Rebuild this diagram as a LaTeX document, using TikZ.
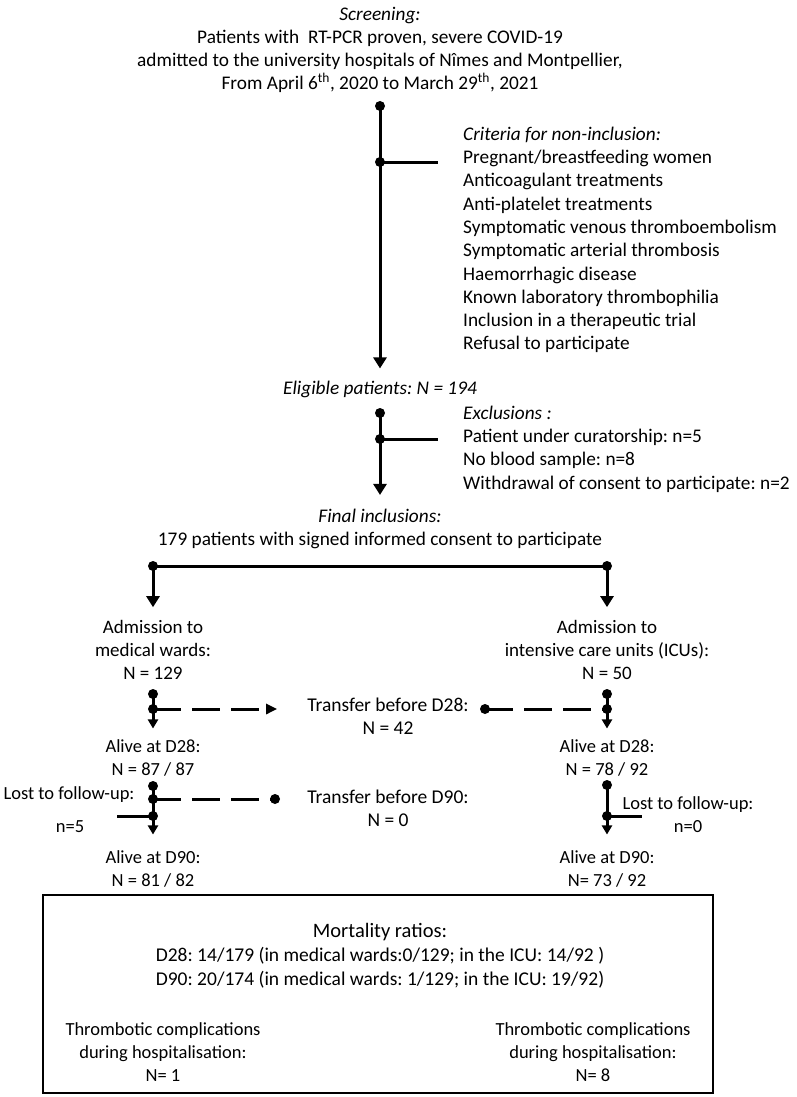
\documentclass[tikz,border=0pt]{standalone}
\usepackage{fontspec}
\setmainfont{Carlito}
\usepackage{tikz}
\usetikzlibrary{positioning,arrows.meta}
\frenchspacing

\begin{document}
\begin{tikzpicture}[x=1pt, y=-1pt,
    txt/.style={align=center, inner sep=0pt, font=\fontsize{18.5}{23}\selectfont},
    big/.style={font=\fontsize{19.3}{23}\selectfont},
    lst/.style={align=left, anchor=west, inner sep=0pt, font=\fontsize{19.3}{23.3}\selectfont},
    dot/.style={circle, fill=black, inner sep=0pt, minimum size=10pt},
    link/.style={line width=3pt},
    flow/.style={line width=3pt, -{Triangle[length=11pt, width=13pt]}},
    subflow/.style={line width=3pt, -{Triangle[length=9pt, width=10pt]}},
    dashlink/.style={line width=3pt, dash pattern=on 28pt off 11pt}]

    \useasboundingbox (0,0) rectangle (796,1097);

    % Screening and non-inclusion
    \node[txt, big] (Screening) at (380,50) {\textit{Screening:}\\Patients with \ RT-PCR proven, severe COVID-19\\admitted to the university hospitals of Nîmes and Montpellier,\\From April 6\textsuperscript{th}, 2020 to March 29\textsuperscript{th}, 2021};
    \node[dot] (ScrDot) at (380,106) {};
    \node[dot] (CritDot) at (380,162) {};
    \coordinate (CritEnd) at (438,162);
    \node[lst] (Criteria) at (463,240) {\textit{Criteria for non-inclusion:}\\Pregnant/breastfeeding women\\Anticoagulant treatments\\Anti-platelet treatments\\Symptomatic venous thromboembolism\\Symptomatic arterial thrombosis\\Haemorrhagic disease\\Known laboratory thrombophilia\\Inclusion in a therapeutic trial\\Refusal to participate};
    \node[txt, big] (Eligible) at (380,389) {\textit{Eligible patients: N = 194}};

    \draw[flow, shorten >=12pt] (ScrDot.center) -- (Eligible);
    \draw[link] (CritDot.center) -- (CritEnd);

    % Exclusions
    \node[dot] (EligDot) at (380,413) {};
    \node[dot] (ExclDot) at (380,439) {};
    \coordinate (ExclEnd) at (438,439);
    \node[lst] (Exclusions) at (463,449) {\textit{Exclusions :}\\Patient under curatorship: n=5\\No blood sample: n=8\\Withdrawal of consent to participate: n=2};
    \node[txt, big] (Final) at (380,529) {\textit{Final inclusions:}\\179 patients with signed informed consent to participate};

    \draw[flow, shorten >=14pt] (EligDot.center) -- (Final);
    \draw[link] (ExclDot.center) -- (ExclEnd);

    % Split into wards and ICU
    \node[dot] (SplitL) at (153,566) {};
    \node[dot] (SplitR) at (607,566) {};
    \node[txt, font=\fontsize{19}{23}\selectfont] (WardAdm) at (153,650) {Admission to\\medical wards:\\N = 129};
    \node[txt, font=\fontsize{19}{23}\selectfont] (IcuAdm) at (607,650) {Admission to\\intensive care units (ICUs):\\N = 50};

    \draw[link] (SplitL.center) -- (SplitR.center);
    \draw[flow, shorten >=13pt] (SplitL.center) -- (WardAdm);
    \draw[flow, shorten >=13pt] (SplitR.center) -- (IcuAdm);

    % Up to D28
    \node[dot] (WardDot1) at (153,694) {};
    \node[dot] (WardDot2) at (153,709) {};
    \node[dot] (IcuDot1) at (607,694) {};
    \node[dot] (IcuDot2) at (607,709) {};
    \node[dot] (TransDot) at (485,709) {};
    \node[txt, font=\fontsize{19.5}{23}\selectfont] (Trans28) at (388,716) {Transfer before D28:\\N = 42};
    \node[txt] (Ward28) at (153,758) {Alive at D28:\\N = 87 / 87};
    \node[txt] (Icu28) at (607,758) {Alive at D28:\\N = 78 / 92};

    \draw[subflow, shorten >=11pt] (WardDot1.center) -- (Ward28);
    \draw[subflow, shorten >=11pt] (IcuDot1.center) -- (Icu28);
    \draw[dashlink, -{Triangle[length=11pt, width=10pt]}, shorten >=30pt] (WardDot2.center) -- (WardDot2 -| Trans28.west);
    \draw[dashlink] (TransDot.center) -- (IcuDot2.center);

    % Up to D90
    \node[dot] (WardDot3) at (153,786) {};
    \node[dot] (WardDot4) at (153,799) {};
    \node[dot] (WardDot5) at (153,816) {};
    \coordinate (WardLostEnd) at (117,816);
    \node[dot] (Trans90Dot) at (275,799) {};
    \node[txt, font=\fontsize{19.5}{23}\selectfont] (Trans90) at (388,808) {Transfer before D90:\\N = 0};
    \node[txt] (WardLost) at (69,795) {Lost to follow-up:};
    \node[txt] (WardLostN) at (70,827) {n=5};

    \node[dot] (IcuDot3) at (607,785) {};
    \node[dot] (IcuDot4) at (607,816) {};
    \coordinate (IcuLostEnd) at (642,816);
    \node[txt] (IcuLost) at (688,815) {Lost to follow-up:\\n=0};

    \node[txt] (Ward90) at (153,869) {Alive at D90:\\N = 81 / 82};
    \node[txt] (Icu90) at (607,869) {Alive at D90:\\N= 73 / 92};

    \draw[subflow, shorten >=16pt] (WardDot3.center) -- (Ward90);
    \draw[subflow, shorten >=16pt] (IcuDot3.center) -- (Icu90);
    \draw[dashlink] (WardDot4.center) -- (Trans90Dot.center);
    \draw[link] (WardDot5.center) -- (WardLostEnd);
    \draw[link] (IcuDot4.center) -- (IcuLostEnd);

    % Summary box
    \node[draw, line width=1.6pt, inner sep=0pt, minimum width=670pt, minimum height=198pt] (Summary) at (378,994) {};
    \node[txt, font=\fontsize{19.5}{24}\selectfont] (Mortality) at (380,956) {{\fontsize{20.5}{24}\selectfont Mortality ratios:}\\D28: 14/179 (in medical wards:0/129; in the ICU: 14/92 )\\D90: 20/174 (in medical wards: 1/129; in the ICU: 19/92)};
    \node[txt] (WardThromb) at (163,1052) {Thrombotic complications\\during hospitalisation:\\N= 1};
    \node[txt] (IcuThromb) at (593,1052) {Thrombotic complications\\during hospitalisation:\\N= 8};
\end{tikzpicture}
\end{document}
